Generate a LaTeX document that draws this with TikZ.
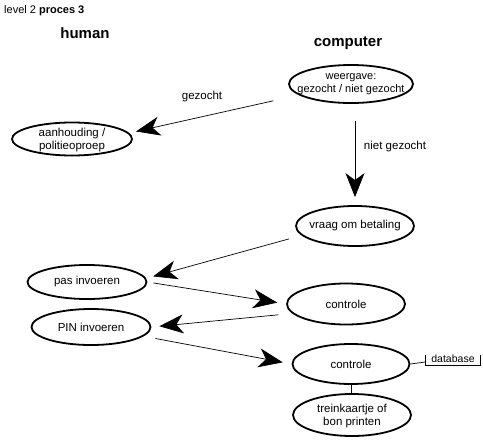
\documentclass[tikz,border=0pt]{standalone}
\usepackage{fontspec}
\setmainfont{Liberation Sans}
\usetikzlibrary{shapes.geometric,arrows.meta}
\begin{document}
\begin{tikzpicture}[x=1pt,y=-1pt,
  ell/.style={draw, ellipse, line width=1.8pt, inner sep=0pt},
  txt/.style={align=center, font=\fontsize{11.5}{13}\selectfont, inner sep=0pt},
  lbl/.style={font=\fontsize{11.5}{13}\selectfont, inner sep=0pt},
  conn/.style={line width=0.7pt},
  arr/.style={conn, -{Stealth[length=24pt,width=19pt,inset=7pt]}},
  head/.style={font=\bfseries\fontsize{15}{18}\selectfont, inner sep=0pt}]
\useasboundingbox (0,0) rectangle (483,440);
\node[anchor=west, inner sep=0pt, font=\fontsize{11}{12}\selectfont] (title) at (4,11) {level 2 \textbf{proces 3}};
\node[head] (human) at (85,33) {human};
\node[head] (comp) at (348,43) {computer};

\node[ell, minimum width=124, minimum height=38] (w) at (351,84) {};
\node[txt, font=\fontsize{11}{13}\selectfont] (wt) at (351,84) {weergave:\\gezocht / niet gezocht};
\node[ell, minimum width=120, minimum height=33] (a) at (72,139) {};
\node[txt, font=\fontsize{11.5}{12.5}\selectfont] (at) at (72,140) {aanhouding /\\politieoproep};
\node[ell, minimum width=118, minimum height=40] (v) at (355,226) {};
\node[txt] (vt) at (v) {vraag om betaling};
\node[ell, minimum width=119, minimum height=34] (p) at (87,282) {};
\node[txt] (pt) at (p) {pas invoeren};
\node[ell, minimum width=118, minimum height=41] (c1) at (346,304) {};
\node[txt] (c1t) at (c1) {controle};
\node[ell, minimum width=119, minimum height=36] (pin) at (91,327) {};
\node[txt] (pint) at (pin) {PIN invoeren};
\node[ell, minimum width=117, minimum height=40] (c2) at (351,364) {};
\node[txt] (c2t) at (c2) {controle};
\node[ell, minimum width=118, minimum height=42] (tr) at (352,415) {};
\node[txt] (trt) at (352,416) {treinkaartje of\\bon printen};

\node[lbl] (l1) at (202,97) {gezocht};
\node[lbl] (l2) at (395,147) {niet gezocht};

\draw[arr, shorten <=26pt, shorten >=7pt] (w.192) -- (a.6);
\draw[arr, shorten <=17pt, shorten >=8pt] (w.south -| v.north) -- (v.north);
\draw[arr, shorten <=13pt, shorten >=6pt] (v.190) -- ([yshift=4pt]p.east);
\draw[arr, shorten <=6pt, shorten >=9pt] (p.east) -- (c1.west);
\draw[arr, shorten <=14pt, shorten >=8pt] (c1.190) -- (pin.east);
\draw[arr, shorten <=12pt, shorten >=9pt] (pin.-10) -- (c2.west);
\draw[conn] (c2) -- (tr);

\node[inner sep=0pt, font=\fontsize{10.5}{12}\selectfont] (db) at (453,359) {database};
\draw[conn] ([xshift=-6pt]db.north west) -- ([xshift=-6pt,yshift=-2pt]db.south west) -- ([xshift=6pt,yshift=-2pt]db.south east) -- ([xshift=6pt]db.north east);
\draw[conn] (c2.east) -- ([xshift=-6pt,yshift=-3pt]db.west);
\end{tikzpicture}
\end{document}
